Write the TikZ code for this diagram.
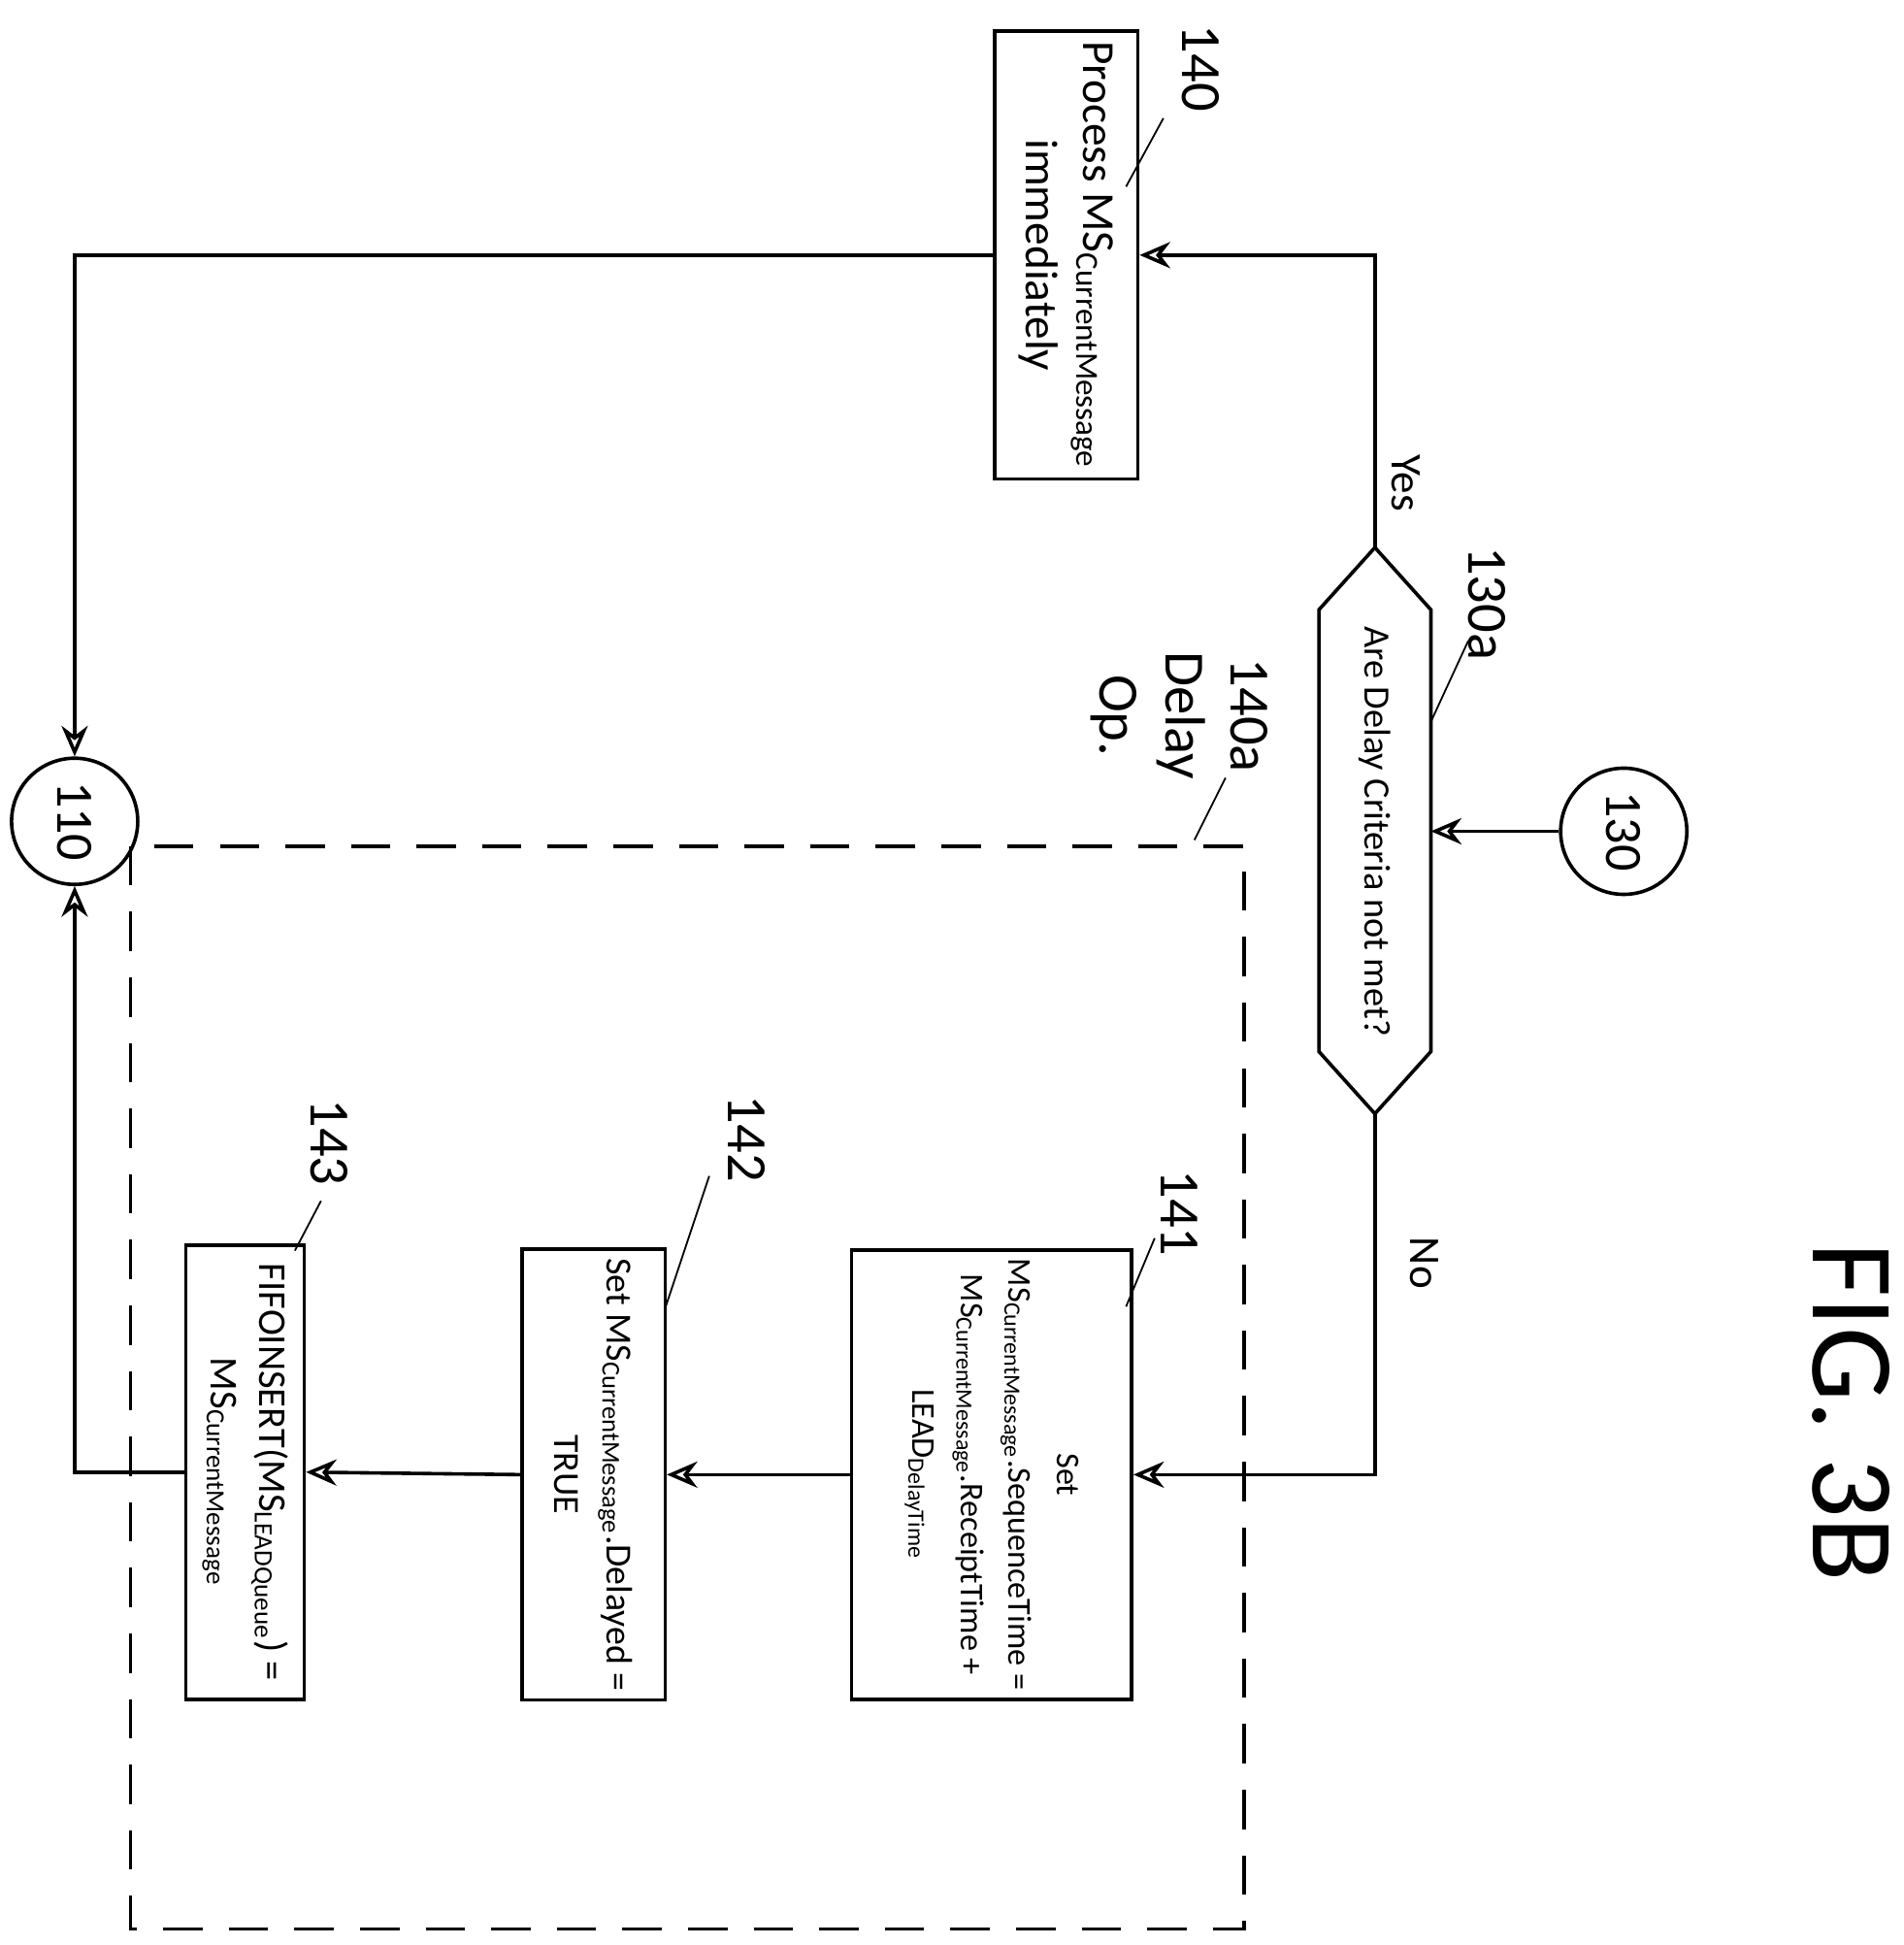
\documentclass[tikz,border=0pt]{standalone}
\usepackage{fontspec}
\setmainfont{Carlito}
\usetikzlibrary{arrows.meta}
\tikzset{
  box/.style={draw, thick, rotate=-90, align=center, inner sep=2pt},
  conn/.style={thick, -{Stealth[open,length=7pt,width=6pt]}},
  ref/.style={rotate=-90, font=\fontsize{13}{15}\selectfont},
  lead/.style={thin},
  joint/.style={draw, thick, circle, minimum size=7.2mm, rotate=-90, font=\fontsize{12}{14}\selectfont}
}
\newcommand{\msc}{MS\textsubscript{CurrentMessage}}
\begin{document}
\begin{tikzpicture}[x=0.1mm, y=-0.1mm, font=\fontsize{10}{12}\selectfont]
  \useasboundingbox (0,0) rectangle (1530,1563);

  % --- boxes ---
  \node[box, minimum width=36mm, minimum height=11.5mm, font=\fontsize{10.5}{13}\selectfont] (p140) at (857,205)
    {Process \msc\\immediately};
  \node[box, minimum width=36mm, minimum height=22.5mm, font=\fontsize{7.6}{11}\selectfont] (s141) at (797,1185)
    {Set\\\msc.SequenceTime =\\\msc.ReceiptTime +\\LEAD\textsubscript{DelayTime}};
  \node[box, minimum width=36mm, minimum height=11.5mm, font=\fontsize{8.4}{12}\selectfont] (s142) at (477,1185)
    {Set \msc.Delayed =\\TRUE};
  \node[box, minimum width=36.5mm, minimum height=9.5mm, font=\fontsize{9}{11}\selectfont] (s143) at (197,1183)
    {FIFOINSERT(MS\textsubscript{LEADQueue}) =\\\msc};

  % --- decision ---
  \coordinate (dtop) at (1105,440);
  \coordinate (dbot) at (1105,895);
  \draw[thick] (dtop) -- (1150,490) -- (1150,845) -- (dbot) -- (1060,845) -- (1060,490) -- cycle;
  \node[rotate=-90, font=\fontsize{8.5}{10}\selectfont] (d130a) at (1105,668) {Are Delay Criteria not met?};

  % --- joints ---
  \node[joint] (c130) at (1305,668) {130};
  \node[joint, minimum size=8mm] (c110) at (60,660) {110};

  % --- delay op frame ---
  \draw[thick, dashed, dash pattern=on 9pt off 6pt] (105,680) rectangle (1000,1550);

  % --- connectors ---
  \draw[conn] (c130) -- (1150,668);
  \draw[conn] (dtop) |- (p140.north);
  \node[rotate=-90] (yes) at (1130,388) {Yes};
  \draw[conn] (dbot) |- (s141.north);
  \node[rotate=-90] (no) at (1145,1015) {No};
  \draw[conn] (p140.south) -| (c110.west);
  \draw[conn] (s141.south) -- (s142.north);
  \draw[conn] (s142.south) -- (s143.north);
  \draw[conn] (s143.south) -| (c110.east);

  % --- reference labels ---
  \node[ref] (r140) at (965,55) {140};
  \draw[lead] (935,95) -- (905,150);
  \node[ref] (r130a) at (1195,485) {130a};
  \draw[lead] (1180,515) -- (1150,580);
  \node[ref, align=center] (r140a) at (948,575) {140a\\Delay\\Op.};
  \draw[lead] (985,625) -- (960,675);
  \node[ref] (r141) at (948,975) {141};
  \draw[lead] (928,995) -- (905,1050);
  \node[ref] (r142) at (600,915) {142};
  \draw[lead] (570,945) -- (535,1050);
  \node[ref] (r143) at (265,918) {143};
  \draw[lead] (258,965) -- (237,1005);

  \node[rotate=-90, font=\fontsize{27}{30}\selectfont] (fig) at (1488,1135) {FIG. 3B};
\end{tikzpicture}
\end{document}
